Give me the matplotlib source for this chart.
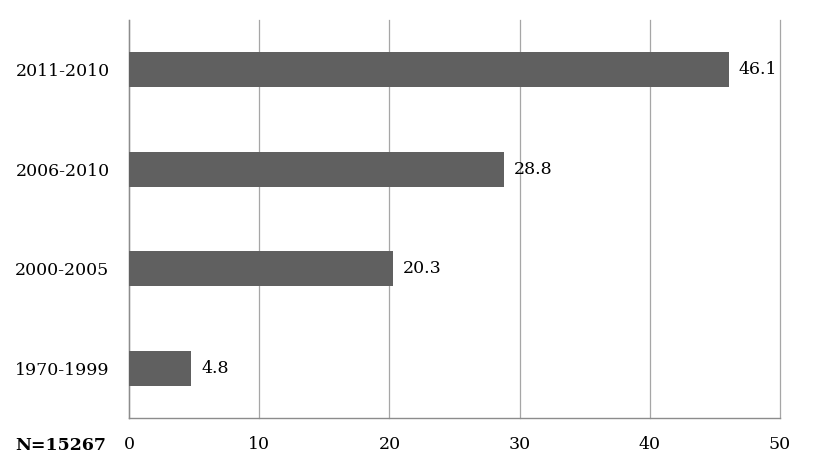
import matplotlib
matplotlib.use("Agg")
import matplotlib.pyplot as plt

# period categories (bottom to top) and their share in percent
periods = ["1970-1999", "2000-2005", "2006-2010", "2011-2010"]
shares = [4.8, 20.3, 28.8, 46.1]
ticks = [0, 10, 20, 30, 40, 50]
note = "N=15267"

plt.rcParams['font.family'] = ['DejaVu Serif']
fs = 12.5

fig = plt.figure(figsize=(8.13, 4.68), dpi=100)
ax = fig.add_axes([129 / 813, 50 / 468, 651 / 813, 398 / 468])

bars = ax.barh(periods, shares, height=0.35, color="#606060", zorder=3)
for b, v in zip(bars, shares):
    ax.annotate("%.1f" % v, (b.get_width(), b.get_y() + b.get_height() / 2),
                xytext=(7, 0), textcoords="offset points",
                va="center", ha="left", fontsize=fs, color="black")

ax.set_xlim(0, 50)
ax.set_ylim(-0.5, len(periods) - 0.5)
ax.set_xticks(ticks)
ax.set_xticklabels([str(t) for t in ticks], fontsize=fs)
ax.tick_params(axis="x", length=0, pad=13)
ax.tick_params(axis="y", length=0, pad=14, labelsize=fs)
ax.grid(axis="x", color="#a6a6a6", linewidth=0.9, zorder=0)
for gl in ax.get_xgridlines():
    gl.set_clip_on(False)

for s in ["top", "right"]:
    ax.spines[s].set_visible(False)
for s in ["left", "bottom"]:
    ax.spines[s].set_color("#8c8c8c")
    ax.spines[s].set_linewidth(1.0)

fig.text(15 / 813, 1 - 445 / 468, note, fontsize=fs, fontweight="bold",
         va="center", ha="left")

fig.savefig("out.png", dpi=100)
